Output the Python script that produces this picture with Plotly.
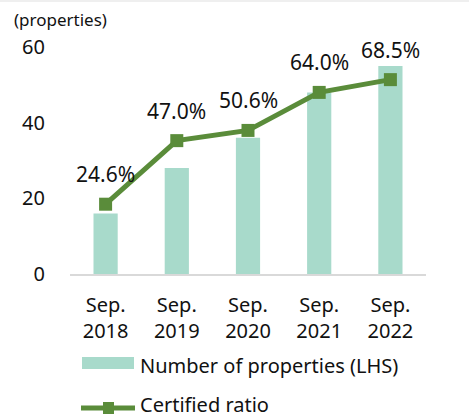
import plotly.graph_objects as go

# Data
periods = ["Sep.<br>2018", "Sep.<br>2019", "Sep.<br>2020", "Sep.<br>2021", "Sep.<br>2022"]
num_properties = [16, 28, 36, 48, 55]          # left axis (properties)
certified_ratio = [24.6, 47.0, 50.6, 64.0, 68.5]  # percent, hidden right axis

BAR_COLOR = "#A8DACB"
LINE_COLOR = "#5A8C3A"
FONT = "Noto Sans"
TEXT_COLOR = "#111111"

W, H = 469, 417
L, R, T, B = 70, 43, 47, 143
PW, PH = W - L - R, H - T - B


def px_x(x):
    return (x - L) / PW


def px_y(y):
    return (H - B - y) / PH


fig = go.Figure()

fig.add_trace(go.Bar(
    x=periods, y=num_properties, name="Number of properties (LHS)",
    marker=dict(color=BAR_COLOR, line=dict(width=0)), width=0.34,
    showlegend=False, yaxis="y",
))

ratio_frac = [v / 100 for v in certified_ratio]
fig.add_trace(go.Scatter(
    x=periods, y=ratio_frac, name="Certified ratio",
    mode="lines+markers",
    line=dict(color=LINE_COLOR, width=5),
    marker=dict(symbol="square", size=13, color=LINE_COLOR),
    showlegend=False, yaxis="y2", cliponaxis=False,
))

fig.update_layout(
    width=W, height=H,
    margin=dict(l=L, r=R, t=T, b=B),
    paper_bgcolor="white", plot_bgcolor="white",
    font=dict(family=FONT, size=20, color=TEXT_COLOR),
    showlegend=False,
    xaxis=dict(
        type="category", showline=True, linecolor="#D9D9D9", linewidth=2,
        showgrid=False, ticks="outside", ticklen=12, tickcolor="rgba(0,0,0,0)",
        tickfont=dict(family=FONT, size=20, color=TEXT_COLOR),
    ),
    yaxis=dict(
        range=[0, 60], tickvals=[0, 20, 40, 60], showgrid=False, zeroline=False,
        showline=False, ticks="outside", ticklen=20, tickcolor="rgba(0,0,0,0)",
        tickfont=dict(family=FONT, size=20, color=TEXT_COLOR),
    ),
    yaxis2=dict(range=[0, 0.8], overlaying="y", side="right", visible=False),
)

shapes = [
    # thin grey band across the top edge
    dict(type="rect", xref="paper", yref="paper",
         x0=px_x(0), x1=px_x(W), y0=px_y(0), y1=px_y(2),
         fillcolor="#EFEFEF", line=dict(width=0), layer="above"),
    # legend swatch: bars
    dict(type="rect", xref="paper", yref="paper",
         x0=px_x(82), x1=px_x(134), y0=px_y(369), y1=px_y(357),
         fillcolor=BAR_COLOR, line=dict(width=0)),
    # legend swatch: line + square marker
    dict(type="line", xref="paper", yref="paper",
         x0=px_x(81), x1=px_x(135), y0=px_y(408), y1=px_y(408),
         line=dict(color=LINE_COLOR, width=5)),
    dict(type="rect", xref="paper", yref="paper",
         x0=px_x(103), x1=px_x(114), y0=px_y(414), y1=px_y(402),
         fillcolor=LINE_COLOR, line=dict(width=0)),
]

# value labels above each ratio point
annotations = [
    dict(text=f"{v:.1f}%", x=p, y=f, xref="x", yref="y2",
         yshift=30, xanchor="center", yanchor="middle", showarrow=False,
         font=dict(family=FONT, size=21, color=TEXT_COLOR))
    for p, v, f in zip(periods, certified_ratio, ratio_frac)
]

annotations += [
    dict(text="(properties)", xref="paper", yref="paper",
         x=px_x(12), y=px_y(20), xanchor="left", yanchor="middle",
         showarrow=False, font=dict(family=FONT, size=17, color=TEXT_COLOR)),
    dict(text="Number of properties (LHS)", xref="paper", yref="paper",
         x=px_x(138), y=px_y(365), xanchor="left", yanchor="middle",
         showarrow=False, font=dict(family=FONT, size=20, color=TEXT_COLOR)),
    dict(text="Certified ratio", xref="paper", yref="paper",
         x=px_x(138), y=px_y(404), xanchor="left", yanchor="middle",
         showarrow=False, font=dict(family=FONT, size=20, color=TEXT_COLOR)),
]

fig.update_layout(shapes=shapes, annotations=annotations)

fig.write_html("out.html")
